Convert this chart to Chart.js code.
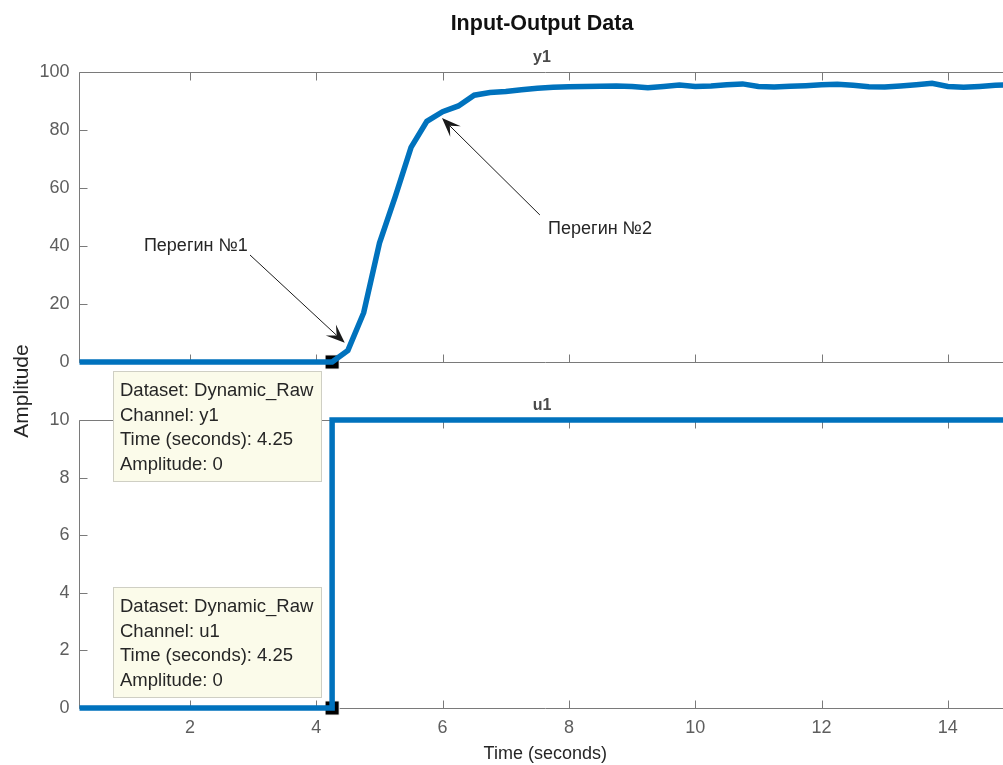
<!DOCTYPE html>
<html>
<head>
<meta charset="utf-8">
<title>Input-Output Data</title>
<script src="https://cdn.jsdelivr.net/npm/chart.js@4.4.1/dist/chart.umd.min.js"></script>
<style>
  html, body { margin: 0; padding: 0; background: #fff; overflow: hidden; }
  #fig { position: relative; width: 1003px; height: 765px; overflow: hidden; background: #fff; }
  #fig canvas { position: absolute; left: 0; top: 0; }
</style>
</head>
<body>
<div id="fig">
  <canvas id="u1Axes" width="1040" height="765" style="width:1040px;height:765px"></canvas>
  <canvas id="y1Axes" width="1040" height="765" style="width:1040px;height:765px"></canvas>
</div>
<script>
// Sampled experiment (Dynamic_Raw), Ts = 0.25 s
const time = [
  0.25, 0.5, 0.75, 1, 1.25, 1.5, 1.75, 2, 2.25, 2.5, 2.75, 3, 3.25, 3.5, 3.75, 4, 4.25,
  4.5, 4.75, 5, 5.25, 5.5, 5.75, 6, 6.25, 6.5, 6.75, 7, 7.25, 7.5, 7.75, 8, 8.25, 8.5, 8.75,
  9, 9.25, 9.5, 9.75, 10, 10.25, 10.5, 10.75, 11, 11.25, 11.5, 11.75, 12, 12.25, 12.5, 12.75,
  13, 13.25, 13.5, 13.75, 14, 14.25, 14.5, 14.75, 15
];
// Output channel y1
const y1 = [
  0, 0, 0, 0, 0, 0, 0, 0, 0, 0, 0, 0, 0, 0, 0, 0, 0,
  4, 17, 41, 57, 74, 83, 86.3, 88.3, 92, 92.9, 93.3, 93.9, 94.4, 94.7, 94.9, 95.0, 95.1, 95.2,
  95.0, 94.6, 95.0, 95.5, 95.0, 95.2, 95.6, 95.9, 95.0, 94.8, 95.1, 95.3, 95.6, 95.8, 95.4, 94.9,
  94.8, 95.2, 95.6, 96.1, 95.0, 94.7, 95.0, 95.4, 95.6
];
// Input channel u1 (step)
const u1 = [
  0, 0, 0, 0, 0, 0, 0, 0, 0, 0, 0, 0, 0, 0, 0, 0, 0,
  10, 10, 10, 10, 10, 10, 10, 10, 10, 10, 10, 10, 10, 10, 10, 10, 10, 10,
  10, 10, 10, 10, 10, 10, 10, 10, 10, 10, 10, 10, 10, 10, 10, 10,
  10, 10, 10, 10, 10, 10, 10, 10, 10
];
const timeTicks = [2, 4, 6, 8, 10, 12, 14];
const y1Ticks = [0, 20, 40, 60, 80, 100];
const u1Ticks = [0, 2, 4, 6, 8, 10];
const timeRange = [0.25, 15];

// Data cursor placed on both channels
const tipTime = 4.25;
const tipIndex = time.indexOf(tipTime);

// Text arrows on the output axes (data units)
const inflections = [
  { label: 'Перегин №1', text: [1.27, 40], tail: [2.95, 36.9], head: [4.45, 6.6] },
  { label: 'Перегин №2', text: [7.67, 45.9], tail: [7.54, 50.7], head: [5.99, 84.1] }
];

const FONT = "'Liberation Sans', Arial, Helvetica, sans-serif";
const AXIS = '#7a7a7a';
const TICK_TEXT = '#5e5e5e';
const INK = '#262626';
const BLUE = '#0072BD';
const TITLE_X = 542;

function points(ys) { return time.map((t, i) => ({ x: t, y: ys[i] })); }

function drawFrame(chart, yTicks) {
  const { ctx, chartArea: a } = chart;
  const xs = chart.scales.x, ys = chart.scales.y;
  const L = Math.floor(a.left) + 0.5, R = Math.floor(a.right) + 0.5;
  const T = Math.floor(a.top) + 0.5, B = Math.floor(a.bottom) + 0.5;
  const TL = 8;
  ctx.save();
  ctx.strokeStyle = AXIS;
  ctx.lineWidth = 1;
  ctx.beginPath();
  ctx.moveTo(L, T); ctx.lineTo(R, T); ctx.lineTo(R, B); ctx.lineTo(L, B); ctx.closePath();
  timeTicks.forEach(v => {
    const px = Math.round(xs.getPixelForValue(v)) + 0.5;
    ctx.moveTo(px, T); ctx.lineTo(px, T + TL);
    ctx.moveTo(px, B); ctx.lineTo(px, B - TL);
  });
  yTicks.forEach(v => {
    const py = Math.round(ys.getPixelForValue(v)) + 0.5;
    ctx.moveTo(L, py); ctx.lineTo(L + TL, py);
    ctx.moveTo(R, py); ctx.lineTo(R - TL, py);
  });
  ctx.stroke();
  ctx.restore();
}

function drawTip(chart, lines, above) {
  const { ctx } = chart;
  const mx = chart.scales.x.getPixelForValue(tipTime);
  const my = chart.scales.y.getPixelForValue(0);
  const w = 209, h = 111;
  const x = Math.round(mx - 219);
  const y = Math.round(above ? my - 10 - h : my + 9);
  ctx.save();
  ctx.fillStyle = '#fbfbea';
  ctx.fillRect(x, y, w, h);
  ctx.strokeStyle = '#cfcfc4';
  ctx.lineWidth = 1;
  ctx.strokeRect(x + 0.5, y + 0.5, w - 1, h - 1);
  ctx.fillStyle = INK;
  ctx.font = `18.5px ${FONT}`;
  ctx.textAlign = 'left';
  ctx.textBaseline = 'middle';
  lines.forEach((s, i) => ctx.fillText(s, x + 7, y + 20 + i * 24.7));
  ctx.restore();
}

function drawArrow(ctx, x0, y0, x1, y1) {
  const ang = Math.atan2(y1 - y0, x1 - x0);
  const c = Math.cos(ang), s = Math.sin(ang);
  const len = 19, half = 7.5, notch = 11;
  ctx.beginPath();
  ctx.moveTo(x0, y0);
  ctx.lineTo(x1 - notch * c, y1 - notch * s);
  ctx.stroke();
  ctx.beginPath();
  ctx.moveTo(x1, y1);
  ctx.lineTo(x1 - len * c - half * s, y1 - len * s + half * c);
  ctx.lineTo(x1 - notch * c, y1 - notch * s);
  ctx.lineTo(x1 - len * c + half * s, y1 - len * s - half * c);
  ctx.closePath();
  ctx.fill();
}

function yAxis(min, max, ticks) {
  return {
    type: 'linear', min, max,
    afterFit(s) { s.width = 79.5; },
    afterBuildTicks(s) { s.ticks = ticks.map(v => ({ value: v })); },
    grid: { display: false, drawTicks: false },
    border: { display: false },
    ticks: { autoSkip: false, padding: 10, color: TICK_TEXT, font: { family: FONT, size: 18 } }
  };
}

const commonOptions = {
  responsive: false,
  animation: false,
  events: [],
  plugins: { legend: { display: false }, tooltip: { enabled: false }, title: { display: false } }
};

function cursorDataset(ys) {
  return {
    data: [{ x: tipTime, y: ys[tipIndex] }],
    showLine: false,
    pointStyle: 'rect',
    pointRadius: 10,
    backgroundColor: '#000',
    borderColor: '#fff',
    borderWidth: 1,
    clip: false
  };
}

// Input axes (u1)
new Chart(document.getElementById('u1Axes'), {
  type: 'line',
  data: {
    datasets: [
      { data: points(u1), borderColor: BLUE, borderWidth: 5.5, pointRadius: 0, stepped: 'after', fill: false, clip: false },
      cursorDataset(u1)
    ]
  },
  options: Object.assign({}, commonOptions, {
    layout: { padding: { left: 0, right: 29, top: 420, bottom: 0 } },
    scales: {
      x: {
        type: 'linear', min: timeRange[0], max: timeRange[1],
        afterFit(s) { s.height = 57; },
        afterBuildTicks(s) { s.ticks = timeTicks.map(v => ({ value: v })); },
        grid: { display: false, drawTicks: false },
        border: { display: false },
        ticks: { autoSkip: false, maxRotation: 0, padding: 9, color: TICK_TEXT, font: { family: FONT, size: 18 } },
        title: { display: true, text: 'Time (seconds)', color: INK, font: { family: FONT, size: 18 }, padding: { top: 0, bottom: 0 } }
      },
      y: yAxis(0, 10, u1Ticks)
    }
  }),
  plugins: [{
    id: 'u1Decor',
    beforeDatasetsDraw(chart) { drawFrame(chart, u1Ticks); },
    afterDraw(chart) {
      const { ctx } = chart;
      ctx.save();
      ctx.fillStyle = '#4a4a4a';
      ctx.font = `bold 16px ${FONT}`;
      ctx.textAlign = 'center';
      ctx.textBaseline = 'middle';
      ctx.fillText('u1', TITLE_X, 406);
      ctx.restore();
      drawTip(chart, ['Dataset: Dynamic_Raw', 'Channel: u1', `Time (seconds): ${tipTime}`, `Amplitude: ${u1[tipIndex]}`], true);
    }
  }]
});

// Output axes (y1)
new Chart(document.getElementById('y1Axes'), {
  type: 'line',
  data: {
    datasets: [
      { data: points(y1), borderColor: BLUE, borderWidth: 5.5, pointRadius: 0, tension: 0, fill: false, clip: false },
      cursorDataset(y1)
    ]
  },
  options: Object.assign({}, commonOptions, {
    layout: { padding: { left: 0, right: 29, top: 72, bottom: 403 } },
    scales: {
      x: { type: 'linear', display: false, min: timeRange[0], max: timeRange[1] },
      y: yAxis(0, 100, y1Ticks)
    }
  }),
  plugins: [{
    id: 'y1Decor',
    beforeDatasetsDraw(chart) { drawFrame(chart, y1Ticks); },
    afterDraw(chart) {
      const { ctx } = chart;
      const xs = chart.scales.x, ys = chart.scales.y;
      ctx.save();
      ctx.textBaseline = 'middle';
      ctx.textAlign = 'center';
      ctx.fillStyle = '#111';
      ctx.font = `bold 21.5px ${FONT}`;
      ctx.fillText('Input-Output Data', TITLE_X, 24);
      ctx.fillStyle = '#4a4a4a';
      ctx.font = `bold 16px ${FONT}`;
      ctx.fillText('y1', TITLE_X, 58);

      ctx.save();
      ctx.translate(22, 391);
      ctx.rotate(-Math.PI / 2);
      ctx.fillStyle = INK;
      ctx.font = `21px ${FONT}`;
      ctx.fillText('Amplitude', 0, 0);
      ctx.restore();

      ctx.strokeStyle = '#1a1a1a';
      ctx.lineWidth = 1;
      inflections.forEach(n => {
        ctx.fillStyle = '#1a1a1a';
        drawArrow(ctx, xs.getPixelForValue(n.tail[0]), ys.getPixelForValue(n.tail[1]),
                       xs.getPixelForValue(n.head[0]), ys.getPixelForValue(n.head[1]));
        ctx.fillStyle = INK;
        ctx.font = `18px ${FONT}`;
        ctx.textAlign = 'left';
        ctx.fillText(n.label, xs.getPixelForValue(n.text[0]), ys.getPixelForValue(n.text[1]));
      });
      ctx.restore();

      drawTip(chart, ['Dataset: Dynamic_Raw', 'Channel: y1', `Time (seconds): ${tipTime}`, `Amplitude: ${y1[tipIndex]}`], false);
    }
  }]
});
</script>
</body>
</html>
